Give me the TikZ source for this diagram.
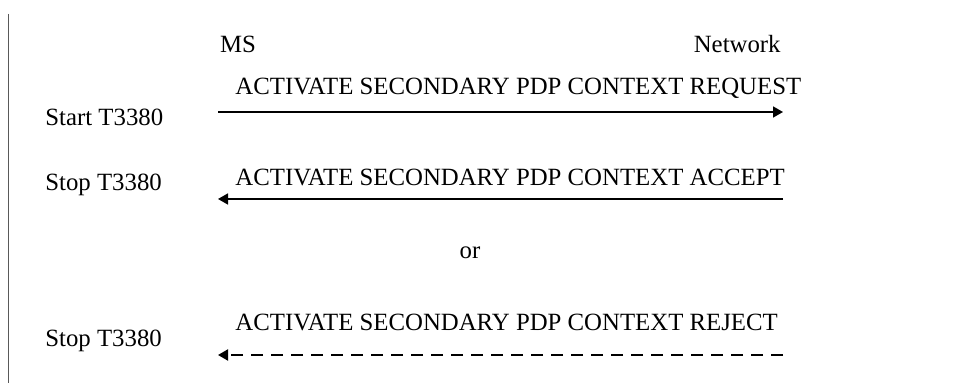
\documentclass[tikz,border=0pt]{standalone}
\usepackage{fontspec}
\setmainfont{Liberation Serif}
\usepackage{tikz}
\usetikzlibrary{arrows.meta,positioning}
\tikzset{
  entity/.style={inner sep=0pt, font=\fontsize{12.4}{14}\selectfont},
  msglabel/.style={anchor=west, inner sep=0pt, font=\fontsize{12.4}{14}\selectfont},
  timerlabel/.style={anchor=west, inner sep=0pt, font=\fontsize{12.4}{14}\selectfont},
  msgarrow/.style={-{Triangle[length=5pt,width=5.5pt]}, line width=0.8pt},
  rejarrow/.style={msgarrow, line width=1pt, dash pattern=on 6pt off 4pt}
}

\begin{document}
\begin{tikzpicture}[x=0.5pt,y=-0.5pt]
\useasboundingbox (0,0) rectangle (978,383);
\draw[gray!70!black, line width=0.5pt] (8,14) -- (8,383);
\node[entity] (ms) at (238,44) {MS};
\node[entity, anchor=east] (nw) at (781,44) {Network};
\coordinate (ms1) at (218,112);
\coordinate (nw1) at (783,112);
\coordinate (ms2) at (218,199);
\coordinate (nw2) at (783,199);
\coordinate (ms3) at (218,355);
\coordinate (nw3) at (783,355);
\node[msglabel] (req) at (235,88) {ACTIVATE SECONDARY PDP CONTEXT REQUEST};
\node[msglabel] (acc) at (235,177) {ACTIVATE SECONDARY PDP CONTEXT ACCEPT};
\node[msglabel] (rej) at (235,322) {ACTIVATE SECONDARY PDP CONTEXT REJECT};
\node[timerlabel] (start) at (45,117) {Start T3380};
\node[timerlabel] (stopa) at (45,185) {Stop T3380};
\node[timerlabel] (stopb) at (45,341) {Stop T3380};
\node[entity] (or) at (470,253) {or};
\draw[msgarrow] (ms1) -- (nw1);
\draw[msgarrow] (nw2) -- (ms2);
\draw[rejarrow] (nw3) -- (ms3);
\end{tikzpicture}
\end{document}
